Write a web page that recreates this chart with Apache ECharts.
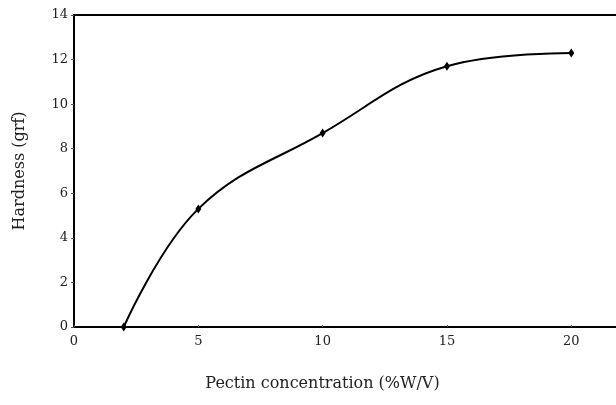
<!DOCTYPE html>
<html>
<head>
<meta charset="utf-8">
<script src="https://cdn.jsdelivr.net/npm/echarts@6/dist/echarts.min.js"></script>
<style>
  html, body { margin: 0; padding: 0; background: #fff; }
  #chart { width: 616px; height: 405px; }
</style>
</head>
<body>
<div id="chart"></div>
<script>
// pectin concentration (%W/V) vs hardness (grf)
const concentration = [2, 5, 10, 15, 20]
const hardness = [0, 5.3, 8.7, 11.7, 12.3]
const xTicks = [0, 5, 10, 15, 20]
const yTicks = [0, 2, 4, 6, 8, 10, 12, 14]

const font = 'DejaVu Serif'

const myChart = echarts.init(document.getElementById('chart'))
myChart.setOption({
    animation: false,
    grid: {
        left: 74, top: 15, right: -5, bottom: 78,
        outerBoundsMode: 'none',
        containLabel: false,
        show: true, borderColor: '#000', borderWidth: 2
    },
    xAxis: {
        type: 'value',
        min: 0, max: 22, interval: 5,
        name: 'Pectin concentration (%W/V)',
        nameLocation: 'middle',
        nameGap: 49,
        nameTextStyle: { fontFamily: font, fontSize: 16, color: '#222', padding: [0, 50, 0, 0] },
        axisLine: { lineStyle: { color: '#000', width: 2 } },
        axisTick: { show: true, length: 2, inside: true, lineStyle: { color: '#555' } },
        axisLabel: {
            fontFamily: font, fontSize: 13, color: '#222', margin: 8,
            formatter: v => xTicks.includes(v) ? String(v) : ''
        },
        splitLine: { show: false }
    },
    yAxis: {
        type: 'value',
        min: 0, max: 14, interval: 2,
        name: 'Hardness (grf)',
        nameLocation: 'middle',
        nameGap: 46,
        nameTextStyle: { fontFamily: font, fontSize: 16, color: '#222' },
        axisLine: { lineStyle: { color: '#000', width: 2 } },
        axisTick: { show: true, length: 3, lineStyle: { color: '#555' } },
        axisLabel: {
            fontFamily: font, fontSize: 13, color: '#222', margin: 6,
            formatter: v => yTicks.includes(v) ? String(v) : ''
        },
        splitLine: { show: false }
    },
    series: [{
        type: 'line',
        data: concentration.map((c, i) => [c, hardness[i]]),
        smooth: 0.4,
        symbol: 'diamond',
        symbolSize: [6, 9],
        itemStyle: { color: '#000' },
        lineStyle: { color: '#000', width: 2 }
    }]
})
</script>
</body>
</html>
